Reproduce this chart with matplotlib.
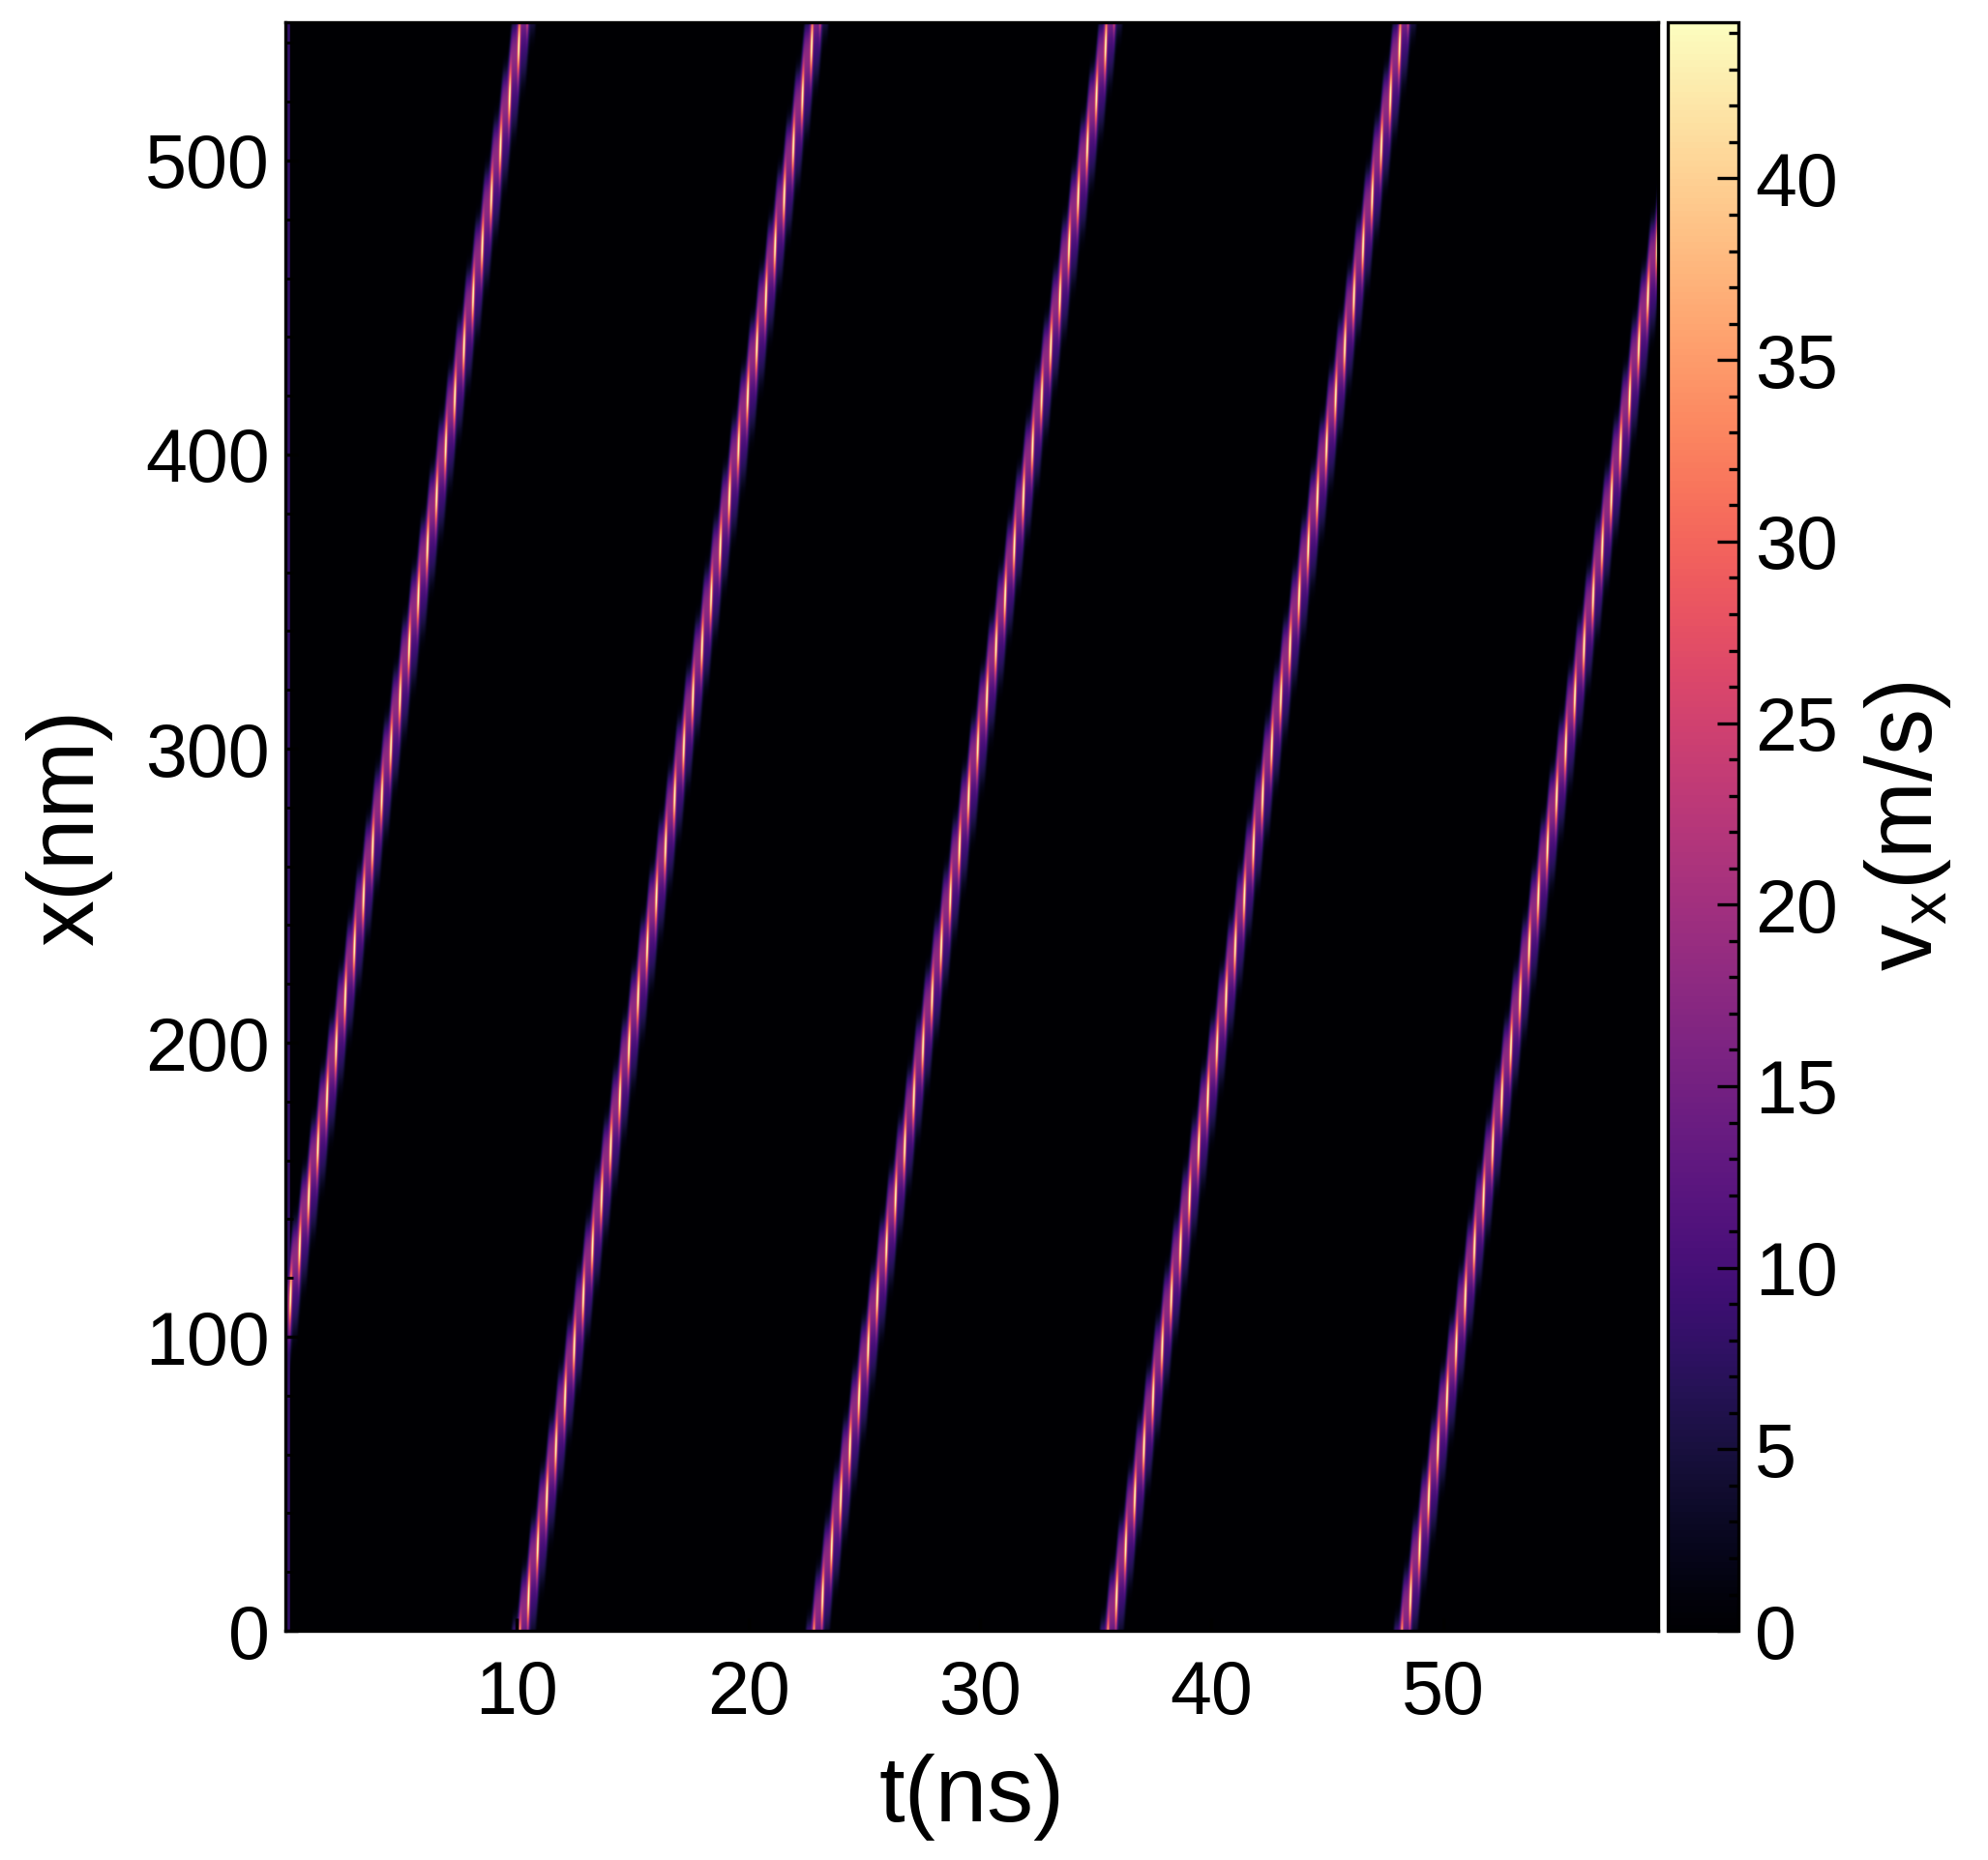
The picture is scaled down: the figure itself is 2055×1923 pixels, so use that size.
import numpy as np
import matplotlib
matplotlib.use('Agg')
import matplotlib.pyplot as plt
from matplotlib.ticker import MultipleLocator

plt.rcParams['font.family'] = ['Liberation Sans', 'DejaVu Sans']
plt.rcParams['mathtext.default'] = 'regular'

# values
t_max = 59.3            # ns
x_max = 547.0           # nm
v_max = 44.3            # colour scale top, m/s
wall_start_t = [-2.35, 10.3, 23.0, 35.7, 48.4]   # time each wall leaves x = 0 (ns)
wall_speed = 43.1       # mean slope of the stripes, nm/ns
step_len = 17.0         # spacing of the bright spots along x, nm
wall_width = 18.0       # half width of the coloured band along x, nm
peak_v = [14.0, 43.0]   # body / spike velocity inside a stripe, m/s
initial_v = 8.0         # faint first column at t ~ 0

t = np.arange(0, t_max, 0.02)
x = np.arange(0, x_max, 1.0)
T, X = np.meshgrid(t, x)

vx = np.zeros_like(T)
k = 0.95
for ts in wall_start_t:
    tau = T - ts
    phase = 2 * np.pi * wall_speed * tau / step_len
    pos = wall_speed * tau - k * step_len / (2 * np.pi) * np.sin(phase)
    u = X - pos
    fast = ((1 - np.cos(phase)) / 2) ** 4
    band = np.exp(-(u / wall_width) ** 4)
    lead = 1 + 0.4 * np.tanh(u / 7.0)
    v = (peak_v[0] + (peak_v[1] - peak_v[0]) * fast * np.exp(-(u / 9.0) ** 2)) * band * lead
    vx = np.maximum(vx, v)
vx = np.clip(vx, 0, v_max)
vx[:, t < 0.2] = np.maximum(vx[:, t < 0.2], initial_v)

fig = plt.figure(figsize=(6.85, 6.41), dpi=300)
ax = fig.add_axes([0.1436, 0.1232, 0.6905, 0.8648])
cax = fig.add_axes([0.839, 0.1232, 0.0355, 0.8648])

im = ax.imshow(vx, origin='lower', aspect='auto', cmap='magma',
               extent=[0, t_max, 0, x_max], vmin=0, vmax=v_max,
               interpolation='bilinear')
ax.set_xlim(0, t_max)
ax.set_ylim(0, x_max)
ax.set_xticks([10, 20, 30, 40, 50])
ax.yaxis.set_major_locator(MultipleLocator(100))
ax.yaxis.set_minor_locator(MultipleLocator(20))
ax.tick_params(which='both', direction='in', labelsize=18.5)
ax.tick_params(axis='x', pad=7)
ax.tick_params(axis='y', pad=4)
ax.tick_params(which='major', length=3.2, width=0.8)
ax.tick_params(which='minor', length=2, width=0.7)
ax.set_xlabel('t(ns)', fontsize=23, labelpad=6)
ax.set_ylabel('x(nm)', fontsize=23, labelpad=8)

cb = fig.colorbar(im, cax=cax)
cb.set_ticks(np.arange(0, 45, 5))
cax.yaxis.set_minor_locator(MultipleLocator(1))
cax.tick_params(which='both', direction='in', labelsize=18.5, pad=4)
cax.tick_params(which='major', length=5.3, width=0.8)
cax.tick_params(which='minor', length=2.4, width=0.8)
cb.outline.set_linewidth(0.8)
cb.set_label('$v_x$(m/s)', fontsize=23, labelpad=6)

fig.savefig('out.png', dpi=300)
